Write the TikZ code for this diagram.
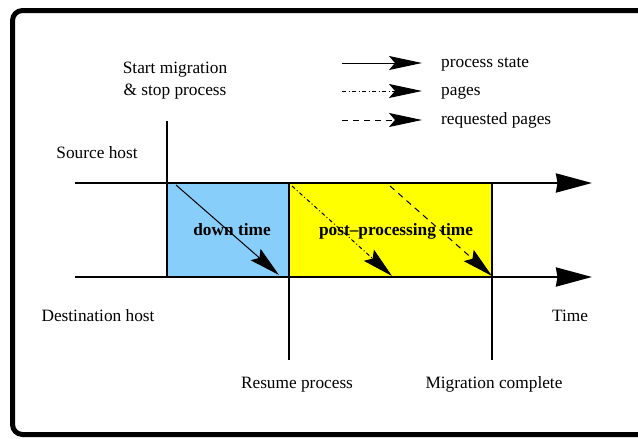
\documentclass[tikz,border=0pt]{standalone}
\usepackage{fontspec}
\setmainfont{Liberation Serif}
\usetikzlibrary{arrows.meta}
\definecolor{downblue}{RGB}{135,206,250}
\definecolor{postyellow}{RGB}{255,255,0}
\begin{document}
\begin{tikzpicture}[x=1pt,y=-1pt,
  lbl/.style={font=\fontsize{17.3}{20}\selectfont, inner sep=0pt, anchor=base},
  lblw/.style={lbl, anchor=base west},
  boldlbl/.style={lbl, font=\fontsize{17.3}{20}\selectfont\bfseries},
  timeline/.style={line width=2.5pt, -{Stealth[length=36pt,width=19pt,inset=1.5pt]}},
  marker/.style={line width=2.5pt},
  flow/.style={line width=1pt, -{Stealth[length=31pt,width=15pt,inset=5pt]}},
  keyflow/.style={line width=1pt, -{Stealth[length=33pt,width=14pt,inset=6pt]}},
  statefl/.style={},
  pagefl/.style={dash pattern=on 4pt off 2.5pt on 1pt off 2.5pt},
  reqfl/.style={dash pattern=on 6pt off 5pt}]
\useasboundingbox (0,0) rectangle (638,439);
\clip (0,0) rectangle (638,439);
% outer frame
\draw[line width=5pt, rounded corners=10pt] (12.5,10.5) rectangle (660,434.5);

% key points on the two timelines
\coordinate (s0) at (75,183);  \coordinate (s1) at (592,183);
\coordinate (d0) at (75,277);  \coordinate (d1) at (592,277);
\coordinate (a) at (167,183); \coordinate (ad) at (167,277); \coordinate (at) at (167,121);
\coordinate (b) at (289,183); \coordinate (bd) at (289,277); \coordinate (bb) at (289,360);
\coordinate (c) at (492,183); \coordinate (cd) at (492,277); \coordinate (cb) at (492,360);

% phases
\fill[downblue] (a) rectangle (bd);
\fill[postyellow] (b) rectangle (cd);

% timelines
\draw[timeline] (s0) -- (s1);
\draw[timeline] (d0) -- (d1);

% event markers
\draw[marker] (at) -- (ad);
\draw[marker] (b) -- (bb);
\draw[marker] (c) -- (cb);

% transfers
\coordinate (f1s) at (176,185); \coordinate (f1e) at (279,275);
\coordinate (f2s) at (292,186); \coordinate (f2e) at (392,276);
\coordinate (f3s) at (390,186); \coordinate (f3e) at (492,276);
\draw[flow, statefl] (f1s) -- (f1e);
\draw[flow, pagefl] (f2s) -- (f2e);
\draw[flow, reqfl] (f3s) -- (f3e);

% phase labels
\node[boldlbl] (down) at (232,235) {down time};
\node[boldlbl] (post) at (396,235) {post--processing time};

% host and event labels
\node[lbl] (start1) at (175,73) {Start migration};
\node[lbl] (start2) at (175,95) {\& stop process};
\node[lbl] (src) at (97,158) {Source host};
\node[lbl] (dst) at (98,321) {Destination host};
\node[lbl] (time) at (570,321) {Time};
\node[lbl] (resume) at (297,388) {Resume process};
\node[lbl] (done) at (494,388) {Migration complete};

% key
\coordinate (k1s) at (342,63);  \coordinate (k1e) at (422,63);
\coordinate (k2s) at (342,91);  \coordinate (k2e) at (422,91);
\coordinate (k3s) at (342,120); \coordinate (k3e) at (422,120);
\draw[keyflow, statefl] (k1s) -- (k1e);
\draw[keyflow, pagefl] (k2s) -- (k2e);
\draw[keyflow, reqfl] (k3s) -- (k3e);
\node[lblw] (kt1) at (441,67) {process state};
\node[lblw] (kt2) at (441,95) {pages};
\node[lblw] (kt3) at (441,124) {requested pages};
\end{tikzpicture}
\end{document}
